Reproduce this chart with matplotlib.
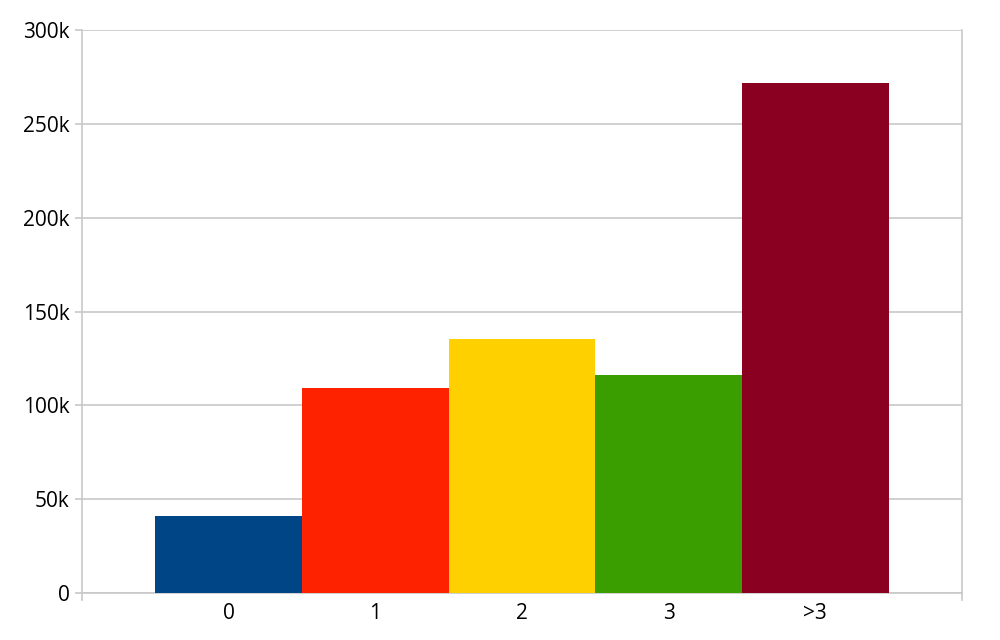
import matplotlib
matplotlib.use("Agg")
import matplotlib.pyplot as plt
from matplotlib.ticker import FuncFormatter

categories = ["0", "1", "2", "3", ">3"]
values = [41000, 109000, 135500, 116200, 272000]
colors = ["#004586", "#ff2200", "#ffd000", "#3a9e00", "#8a0021"]

plt.rcParams['font.family'] = ['Open Sans', 'DejaVu Sans']

fig = plt.figure(figsize=(10, 6.4), dpi=100)
ax = fig.add_axes([0.082, 0.0734, 0.880, 0.8796])

x = list(range(len(categories)))
ax.bar(x, values, width=1.0, color=colors, edgecolor="none", zorder=3)

ax.set_xlim(-1, 5)
ax.set_ylim(0, 300000)
ax.set_yticks(range(0, 300001, 50000))
ax.yaxis.set_major_formatter(FuncFormatter(lambda v, p: "0" if v == 0 else f"{int(v/1000)}k"))
ax.set_xticks(x)
ax.set_xticklabels(categories)

ax.grid(axis="y", color="#c8c8c8", linewidth=1.2, zorder=0)
for s in ["left", "bottom", "right"]:
    ax.spines[s].set_color("#c8c8c8")
    ax.spines[s].set_linewidth(1.2)
ax.spines["top"].set_visible(False)

ax.tick_params(axis="y", length=5, color="#c8c8c8", width=1.2, labelsize=15, pad=4)
ax.tick_params(axis="x", length=0, labelsize=15, pad=7)
# small end ticks on x axis
ax.plot([-1, -1], [0, -0.012], transform=ax.get_xaxis_transform(), color="#c8c8c8", lw=1.2, clip_on=False)
ax.plot([5, 5], [0, -0.012], transform=ax.get_xaxis_transform(), color="#c8c8c8", lw=1.2, clip_on=False)

fig.savefig("out.png", dpi=100)
